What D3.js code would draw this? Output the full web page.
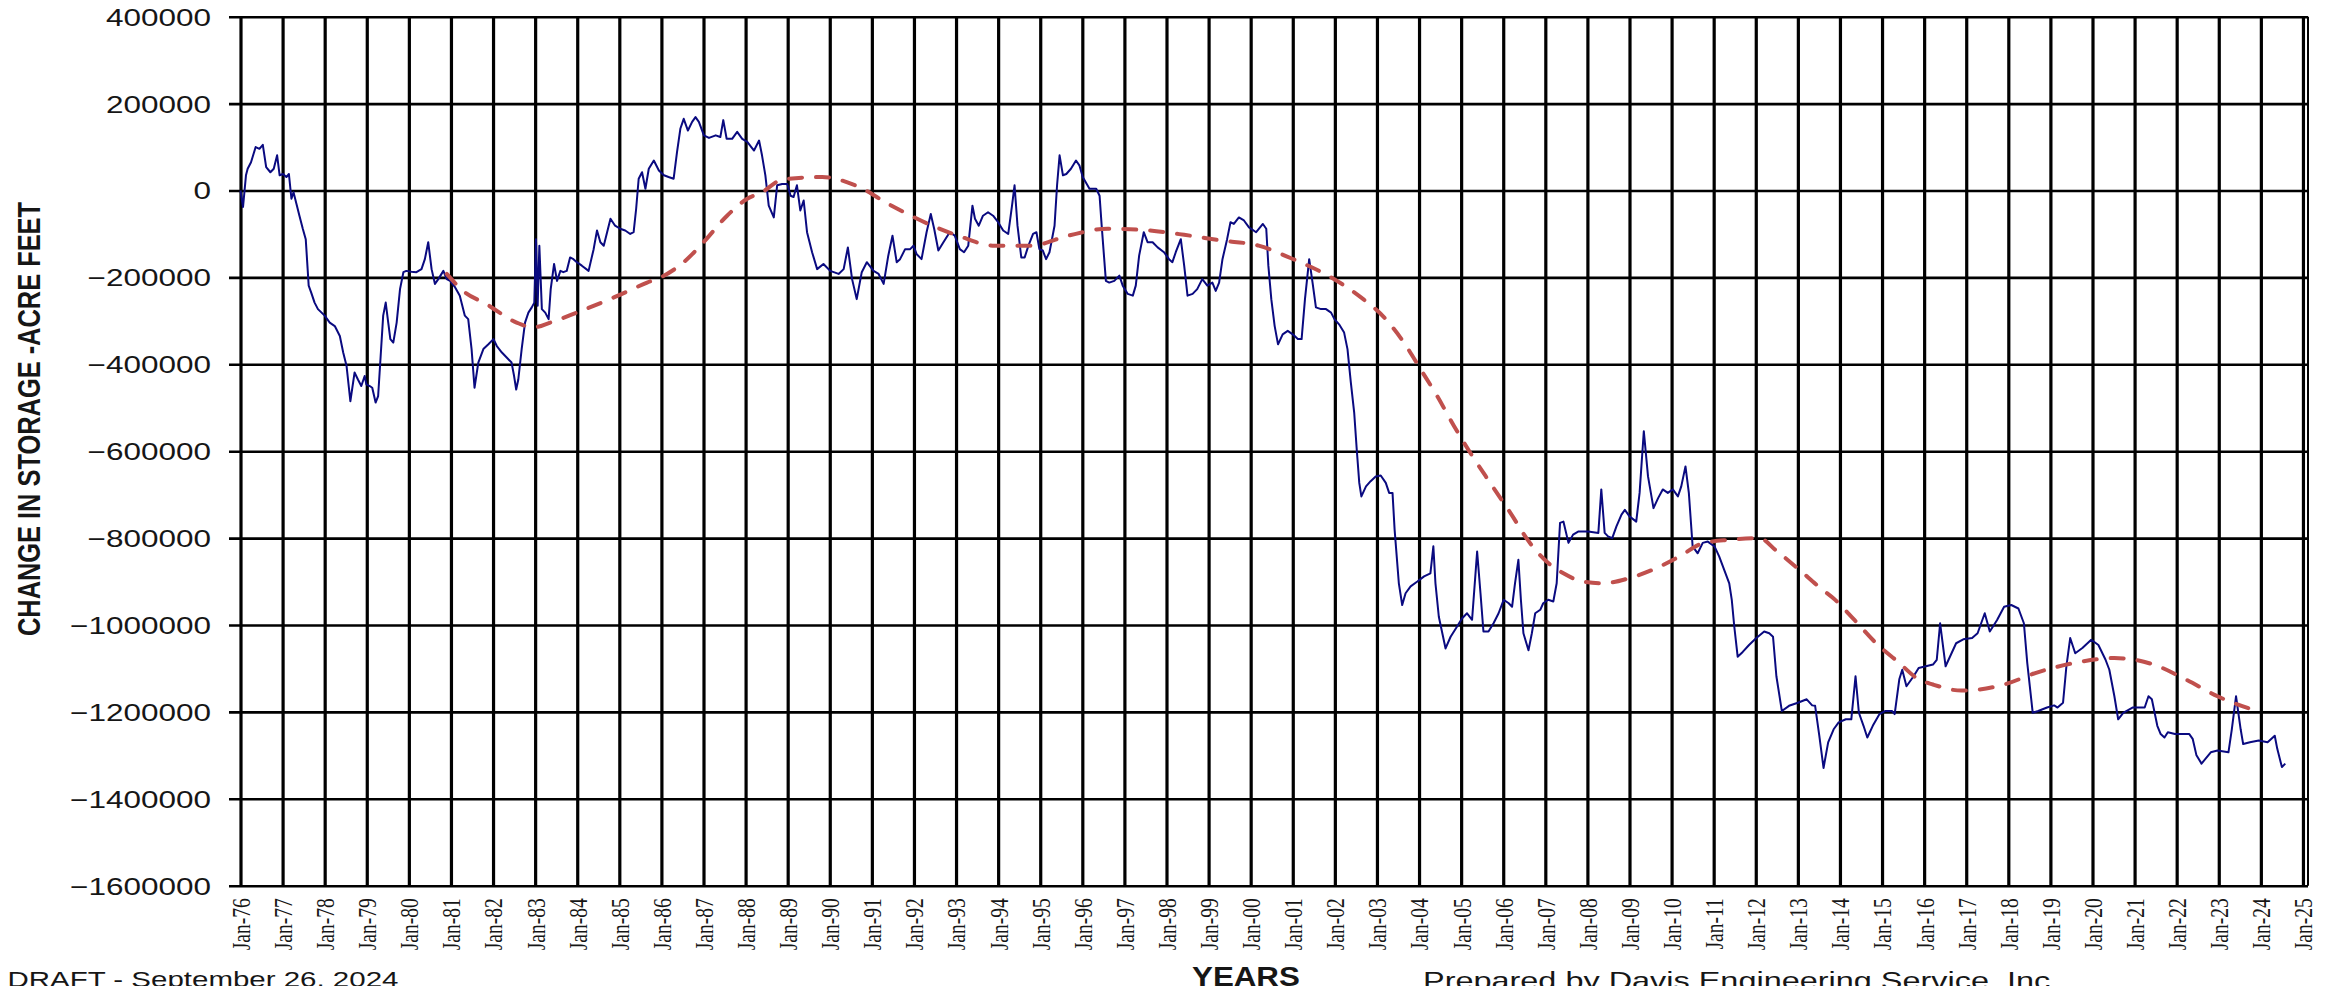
<!DOCTYPE html>
<html>
<head>
<meta charset="utf-8">
<script src="https://cdn.jsdelivr.net/npm/d3@7"></script>
<style>
  body { margin: 0; background: #fff; }
  svg { display: block; }
</style>
</head>
<body>
<div id="chart"></div>
<script>
// ---- values ----
const yearTicks = d3.range(1976, 2026);
const valueTicks = d3.range(-1600000, 400001, 200000);

// monthly-ish change in storage (decimal year, acre feet)
const storageYears = [
  1976.00, 1976.06, 1976.13, 1976.17, 1976.25, 1976.36, 1976.45, 1976.53, 1976.61, 1976.71, 1976.79, 1976.87, 1976.93,
  1977.01, 1977.09, 1977.15, 1977.21, 1977.26, 1977.33, 1977.40, 1977.48, 1977.55, 1977.62, 1977.68, 1977.76, 1977.84,
  1978.00, 1978.12, 1978.24, 1978.36, 1978.44, 1978.52, 1978.61, 1978.71, 1978.79, 1978.87, 1978.95, 1978.99,
  1979.07, 1979.13, 1979.21, 1979.27, 1979.33, 1979.39, 1979.45, 1979.51, 1979.56, 1979.63, 1979.71, 1979.79, 1979.87, 1979.94,
  1980.06, 1980.18, 1980.30, 1980.38, 1980.46, 1980.54, 1980.62, 1980.70, 1980.82, 1980.90, 1980.98,
  1981.10, 1981.21, 1981.33, 1981.41, 1981.49, 1981.56, 1981.65, 1981.77, 1981.89,
  1982.01, 1982.09, 1982.21, 1982.33, 1982.44, 1982.50, 1982.55, 1982.60, 1982.68, 1982.76, 1982.84, 1982.92, 1982.98,
  1983.02, 1983.06, 1983.10, 1983.16, 1983.24, 1983.32, 1983.37, 1983.45, 1983.52, 1983.60, 1983.67, 1983.75, 1983.83, 1983.91, 1983.99,
  1984.11, 1984.27, 1984.39, 1984.47, 1984.55, 1984.63, 1984.71, 1984.79, 1984.90,
  1985.02, 1985.14, 1985.26, 1985.34, 1985.40, 1985.46, 1985.54, 1985.62, 1985.70, 1985.82, 1985.94,
  1986.06, 1986.17, 1986.29, 1986.37, 1986.45, 1986.53, 1986.63, 1986.73, 1986.81, 1986.89,
  1987.01, 1987.13, 1987.29, 1987.40, 1987.47, 1987.55, 1987.68, 1987.80, 1987.92,
  1988.04, 1988.20, 1988.32, 1988.39, 1988.47, 1988.55, 1988.67, 1988.75, 1988.87, 1988.99,
  1989.07, 1989.14, 1989.22, 1989.30, 1989.38, 1989.46, 1989.58, 1989.70, 1989.85,
  1990.01, 1990.21, 1990.33, 1990.43, 1990.53, 1990.64, 1990.76, 1990.88,
  1991.04, 1991.16, 1991.28, 1991.39, 1991.49, 1991.59, 1991.67, 1991.79, 1991.91, 1991.99,
  1992.06, 1992.18, 1992.30, 1992.40, 1992.48, 1992.58, 1992.70, 1992.85, 1992.97,
  1993.09, 1993.19, 1993.29, 1993.39, 1993.45, 1993.54, 1993.64, 1993.76, 1993.88,
  1994.00, 1994.12, 1994.24, 1994.33, 1994.39, 1994.46, 1994.55, 1994.63, 1994.72, 1994.83, 1994.91, 1994.98,
  1995.06, 1995.14, 1995.22, 1995.34, 1995.40, 1995.46, 1995.54, 1995.62, 1995.73, 1995.85, 1995.93,
  1996.01, 1996.17, 1996.33, 1996.41, 1996.46, 1996.56, 1996.64, 1996.76, 1996.88, 1996.96,
  1997.08, 1997.20, 1997.27, 1997.35, 1997.46, 1997.55, 1997.67, 1997.79, 1997.94,
  1998.06, 1998.14, 1998.22, 1998.34, 1998.42, 1998.50, 1998.62, 1998.73, 1998.85, 1998.97,
  1999.09, 1999.17, 1999.25, 1999.33, 1999.44, 1999.52, 1999.60, 1999.72, 1999.84, 1999.96,
  2000.13, 2000.29, 2000.37, 2000.42, 2000.49, 2000.57, 2000.65, 2000.76, 2000.88,
  2001.00, 2001.12, 2001.21, 2001.29, 2001.39, 2001.47, 2001.55, 2001.67, 2001.79, 2001.91, 2001.99,
  2002.10, 2002.22, 2002.30, 2002.38, 2002.46, 2002.52, 2002.58, 2002.63, 2002.74, 2002.85, 2002.97,
  2003.09, 2003.21, 2003.29, 2003.37, 2003.42, 2003.52, 2003.60, 2003.68, 2003.80, 2003.96,
  2004.12, 2004.27, 2004.34, 2004.39, 2004.47, 2004.63, 2004.75, 2004.90,
  2005.02, 2005.14, 2005.26, 2005.38, 2005.46, 2005.53, 2005.65, 2005.77, 2005.89,
  2006.01, 2006.13, 2006.21, 2006.28, 2006.36, 2006.42, 2006.48, 2006.60, 2006.68, 2006.76, 2006.88, 2006.95,
  2007.07, 2007.19, 2007.27, 2007.35, 2007.43, 2007.55, 2007.66, 2007.78,
  2008.02, 2008.26, 2008.33, 2008.41, 2008.49, 2008.59, 2008.69, 2008.81, 2008.89,
  2009.00, 2009.16, 2009.24, 2009.34, 2009.44, 2009.57, 2009.68, 2009.79, 2009.91,
  2010.03, 2010.15, 2010.23, 2010.33, 2010.41, 2010.50, 2010.62, 2010.74, 2010.86,
  2011.02, 2011.13, 2011.25, 2011.37, 2011.43, 2011.49, 2011.57, 2011.69, 2011.84,
  2012.00, 2012.20, 2012.32, 2012.41, 2012.49, 2012.62, 2012.79,
  2013.00, 2013.21, 2013.34, 2013.41, 2013.51, 2013.61, 2013.72, 2013.85, 2013.97,
  2014.14, 2014.27, 2014.37, 2014.45, 2014.56, 2014.65, 2014.78, 2014.94,
  2015.07, 2015.24, 2015.30, 2015.41, 2015.48, 2015.58, 2015.75, 2015.87,
  2016.04, 2016.21, 2016.30, 2016.38, 2016.51, 2016.76, 2016.93,
  2017.14, 2017.27, 2017.44, 2017.56, 2017.73, 2017.90,
  2018.07, 2018.24, 2018.37, 2018.45, 2018.58, 2018.71, 2018.92,
  2019.09, 2019.17, 2019.30, 2019.38, 2019.47, 2019.59, 2019.76, 2019.97,
  2020.14, 2020.31, 2020.40, 2020.52, 2020.61, 2020.73, 2020.95,
  2021.24, 2021.33, 2021.41, 2021.54, 2021.62, 2021.71, 2021.79, 2021.96,
  2022.30, 2022.38, 2022.47, 2022.59, 2022.81, 2022.97,
  2023.23, 2023.31, 2023.41, 2023.52, 2023.58, 2023.74, 2023.95,
  2024.16, 2024.33, 2024.39, 2024.50, 2024.58
];
const storageValues = [
  0, -38000, 35000, 50000, 65000, 100000, 96000, 105000, 54000, 42000, 50000, 81000, 35000,
  38000, 31000, 38000, -19000, -4000, -31000, -58000, -88000, -112000, -219000, -235000, -258000, -273000,
  -288000, -304000, -312000, -335000, -373000, -404000, -485000, -419000, -435000, -450000, -427000, -446000,
  -450000, -454000, -488000, -473000, -381000, -288000, -258000, -304000, -342000, -350000, -304000, -227000, -188000, -185000,
  -187000, -188000, -181000, -158000, -119000, -181000, -215000, -204000, -185000, -204000, -208000,
  -223000, -242000, -288000, -296000, -365000, -454000, -396000, -365000, -354000,
  -342000, -358000, -373000, -385000, -396000, -427000, -458000, -435000, -365000, -304000, -281000, -269000, -258000,
  -112000, -265000, -127000, -273000, -281000, -296000, -227000, -169000, -208000, -185000, -188000, -185000, -154000, -158000, -165000,
  -173000, -185000, -135000, -92000, -119000, -127000, -96000, -65000, -81000,
  -88000, -92000, -100000, -96000, -42000, 27000, 42000, 4000, 50000, 69000, 46000,
  35000, 31000, 27000, 88000, 142000, 165000, 138000, 158000, 169000, 158000,
  127000, 121000, 127000, 123000, 162000, 119000, 119000, 135000, 119000,
  112000, 92000, 115000, 81000, 35000, -35000, -62000, 12000, 15000, 15000,
  -12000, -15000, 12000, -46000, -23000, -96000, -142000, -181000, -169000,
  -185000, -192000, -181000, -131000, -204000, -250000, -188000, -165000,
  -185000, -192000, -215000, -150000, -104000, -165000, -158000, -135000, -135000, -127000,
  -146000, -158000, -96000, -54000, -88000, -138000, -119000, -96000, -104000,
  -135000, -142000, -127000, -35000, -65000, -81000, -58000, -50000, -58000,
  -73000, -92000, -100000, -35000, 12000, -81000, -154000, -154000, -127000, -100000, -96000, -135000,
  -138000, -158000, -142000, -81000, 12000, 81000, 35000, 38000, 50000, 69000, 58000,
  31000, 4000, 4000, -12000, -81000, -208000, -212000, -208000, -196000, -219000,
  -238000, -242000, -219000, -150000, -96000, -119000, -119000, -131000, -142000,
  -158000, -165000, -142000, -112000, -173000, -242000, -238000, -227000, -204000, -219000,
  -212000, -231000, -212000, -158000, -112000, -73000, -77000, -62000, -69000, -85000,
  -96000, -77000, -88000, -173000, -250000, -312000, -354000, -331000, -323000,
  -331000, -342000, -342000, -250000, -158000, -212000, -269000, -273000, -273000, -281000, -296000,
  -308000, -327000, -365000, -442000, -512000, -596000, -673000, -704000, -681000, -669000, -658000,
  -656000, -673000, -696000, -696000, -781000, -904000, -954000, -927000, -911000, -900000,
  -888000, -881000, -819000, -904000, -981000, -1054000, -1027000, -1004000,
  -985000, -973000, -988000, -831000, -927000, -1015000, -1015000, -996000, -973000,
  -942000, -950000, -958000, -904000, -850000, -942000, -1019000, -1058000, -1019000, -973000, -965000, -950000,
  -942000, -946000, -904000, -765000, -762000, -811000, -792000, -785000,
  -785000, -788000, -688000, -788000, -796000, -800000, -773000, -746000, -735000,
  -750000, -762000, -696000, -554000, -658000, -731000, -708000, -688000, -696000,
  -688000, -704000, -681000, -635000, -696000, -819000, -835000, -811000, -808000,
  -819000, -842000, -873000, -904000, -942000, -1004000, -1073000, -1062000, -1046000,
  -1031000, -1015000, -1019000, -1027000, -1118000, -1198000, -1186000,
  -1179000, -1171000, -1185000, -1186000, -1255000, -1329000, -1270000, -1240000, -1224000,
  -1217000, -1217000, -1118000, -1202000, -1232000, -1259000, -1232000, -1205000,
  -1198000, -1198000, -1205000, -1125000, -1103000, -1141000, -1118000, -1099000,
  -1095000, -1091000, -1080000, -996000, -1095000, -1042000, -1033000,
  -1030000, -1019000, -973000, -1015000, -989000, -958000,
  -954000, -962000, -996000, -1087000, -1202000, -1198000, -1190000,
  -1185000, -1190000, -1179000, -1095000, -1030000, -1065000, -1053000, -1034000,
  -1046000, -1080000, -1103000, -1164000, -1217000, -1202000, -1190000,
  -1190000, -1164000, -1171000, -1232000, -1251000, -1259000, -1247000, -1251000,
  -1251000, -1262000, -1300000, -1319000, -1293000, -1289000,
  -1293000, -1240000, -1164000, -1240000, -1274000, -1270000, -1266000,
  -1270000, -1255000, -1285000, -1327000, -1319000
];

// smoothed trend (red dashed)
const trendYears = [
  1980.90, 1981.29, 1981.85, 1982.56, 1982.96, 1983.36, 1983.99, 1984.87, 1985.66, 1986.06, 1986.53,
  1987.00, 1987.56, 1988.04, 1988.39, 1988.87, 1989.82, 1990.60, 1991.47, 1992.34, 1993.05, 1993.92,
  1994.79, 1995.66, 1996.60, 1997.47, 1998.42, 1999.29, 2000.19, 2000.96, 2001.91, 2002.62, 2003.17,
  2003.64, 2004.04, 2004.43, 2004.83, 2005.22, 2005.69, 2006.17, 2006.64, 2007.03, 2007.43, 2007.90,
  2008.37, 2009.00, 2009.64, 2010.19, 2010.74, 2011.37, 2012.08, 2012.50, 2013.00, 2013.55, 2013.85,
  2014.35, 2014.86, 2015.37, 2015.87, 2016.21, 2016.89, 2017.90, 2018.66, 2019.59, 2020.52, 2021.45,
  2022.21, 2022.97, 2023.90
];
const trendValues = [
  -192000, -231000, -262000, -304000, -315000, -304000, -281000, -246000, -212000, -196000, -165000,
  -119000, -58000, -19000, -4000, 25000, 31000, 12000, -35000, -77000, -104000, -127000,
  -127000, -104000, -88000, -91000, -102000, -115000, -127000, -156000, -200000, -246000, -292000,
  -350000, -412000, -473000, -542000, -604000, -673000, -742000, -812000, -854000, -881000, -900000,
  -904000, -892000, -869000, -842000, -812000, -804000, -800000, -830000, -870000, -916000, -939000,
  -989000, -1042000, -1084000, -1125000, -1137000, -1151000, -1137000, -1110000, -1087000, -1076000, -1091000,
  -1125000, -1164000, -1198000
];

// ---- layout ----
const chartWidth = 2336, chartHeight = 986;
const SX = 1.34;               // the source picture is stretched sideways
const plotLeft = 240.5, plotRight = 2308, plotTop = 16.7, plotBottom = 885.7;
const tickStart = 229;
const sans = "'Liberation Sans', Arial, sans-serif";
const serif = "'Liberation Serif', 'Times New Roman', serif";
const ink = "#161616";

const x = d3.scaleLinear().domain([1976, 2025.12]).range([plotLeft, plotRight]);
const y = d3.scaleLinear().domain([-1600000, 400000]).range([plotBottom, plotTop]);

const svg = d3.select("#chart").append("svg")
  .attr("width", chartWidth).attr("height", chartHeight)
  .style("background", "#fff");

// horizontal grid + y labels
const yAxis = svg.append("g")
  .attr("transform", `translate(${tickStart},0)`)
  .call(d3.axisLeft(y).tickValues(valueTicks).tickSize(-(plotRight - tickStart)).tickFormat(d3.format("d")));
yAxis.select(".domain").remove();
yAxis.selectAll("line").attr("stroke", "#000").attr("stroke-width", 2.6);
yAxis.selectAll("text")
  .attr("x", null)
  .attr("dy", "0.36em")
  .attr("transform", `translate(${211 - tickStart},0) scale(${SX},1)`)
  .attr("fill", ink)
  .style("font-family", sans)
  .style("font-size", "23.5px");

// vertical grid + rotated year labels
const xAxis = svg.append("g")
  .attr("transform", `translate(0,${plotBottom})`)
  .call(d3.axisBottom(x).tickValues(yearTicks).tickSize(-(plotBottom - plotTop))
    .tickFormat(d => "Jan-" + String(d).slice(2)));
xAxis.select(".domain").remove();
xAxis.selectAll("line").attr("stroke", "#000").attr("stroke-width", 3.2);
xAxis.selectAll("text")
  .attr("x", null).attr("y", null)
  .attr("dy", "0.34em")
  .attr("text-anchor", "end")
  .attr("transform", `translate(0,12.6) scale(${SX},1) rotate(-90)`)
  .attr("fill", ink)
  .style("font-family", serif)
  .style("font-size", "19.5px");

// plot area right edge
svg.append("line")
  .attr("x1", plotRight).attr("x2", plotRight).attr("y1", plotTop).attr("y2", plotBottom)
  .attr("stroke", "#000").attr("stroke-width", 2);

// series
const storage = storageYears.map((yr, i) => ({ yr, v: storageValues[i] }));
const trend = trendYears.map((yr, i) => ({ yr, v: trendValues[i] }));

svg.append("path")
  .datum(storage)
  .attr("fill", "none")
  .attr("stroke", "#0a0a80")
  .attr("stroke-width", 2)
  .attr("stroke-linejoin", "round")
  .attr("d", d3.line().x(d => x(d.yr)).y(d => y(d.v)));

svg.append("path")
  .datum(trend)
  .attr("fill", "none")
  .attr("stroke", "#c0504d")
  .attr("stroke-width", 4)
  .attr("stroke-linecap", "round")
  .attr("stroke-dasharray", "13 14")
  .attr("d", d3.line().curve(d3.curveMonotoneX).x(d => x(d.yr)).y(d => y(d.v)));

// axis titles
svg.append("text")
  .attr("transform", `translate(29,419) scale(1.2,1) rotate(-90)`)
  .attr("text-anchor", "middle")
  .attr("dy", "0.36em")
  .attr("fill", ink)
  .style("font-family", sans)
  .style("font-weight", "bold")
  .style("font-size", "25.4px")
  .text("CHANGE IN STORAGE -ACRE FEET");

svg.append("text")
  .attr("transform", `translate(1192,985.5) scale(1.16,1)`)
  .attr("fill", ink)
  .style("font-family", sans)
  .style("font-weight", "bold")
  .style("font-size", "27px")
  .text("YEARS");

// footer notes
svg.append("text")
  .attr("transform", `translate(7.5,986.5) scale(${SX},1)`)
  .attr("fill", ink)
  .style("font-family", sans)
  .style("font-size", "22px")
  .text("DRAFT - September 26, 2024");

svg.append("text")
  .attr("transform", `translate(1423,989) scale(${SX},1)`)
  .attr("fill", ink)
  .style("font-family", sans)
  .style("font-size", "24.2px")
  .text("Prepared by Davis Engineering Service, Inc");
</script>
</body>
</html>
